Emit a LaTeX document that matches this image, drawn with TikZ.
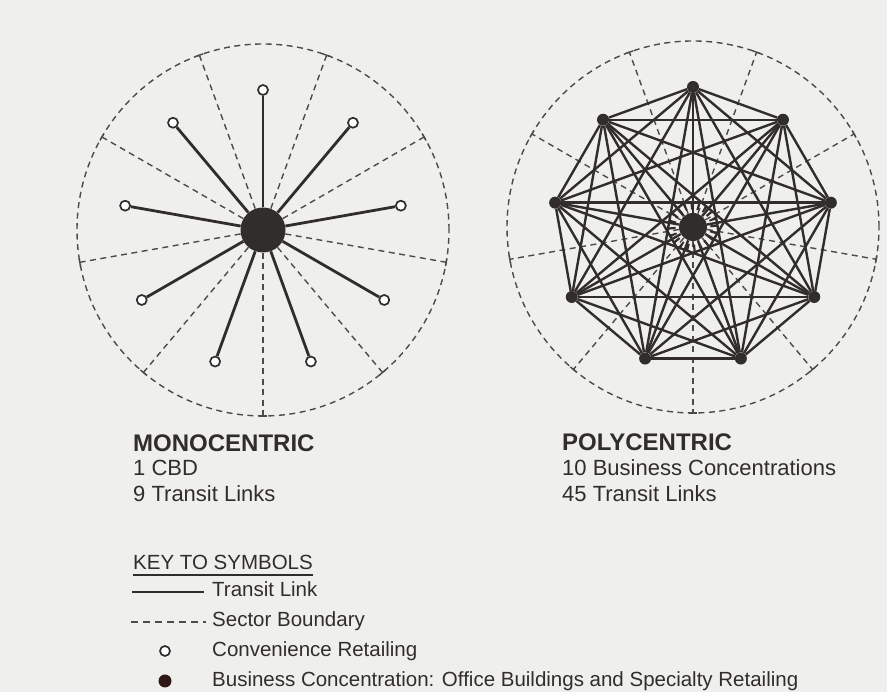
\documentclass[tikz,border=0pt]{standalone}
\usepackage{fontspec}
\setmainfont{Liberation Sans}
\usepackage{xcolor}
\usepackage{tikz}
\usetikzlibrary{positioning}

\definecolor{inkdark}{RGB}{50,45,45}
\definecolor{inkgray}{RGB}{75,75,75}
\definecolor{paper}{RGB}{239,240,237}

\begin{document}
\begin{tikzpicture}[
  x=1pt, y=1pt,
  link/.style={draw=inkdark, line width=2.8pt},
  sector/.style={draw=inkgray, line width=1.4pt, dash pattern=on 6pt off 4.5pt},
  tick/.style={draw=inkgray, line width=1.4pt},
  conv/.style={circle, draw=inkdark, fill=white, line width=1.7pt, inner sep=0pt, minimum size=10pt},
  cbdnode/.style={circle, fill=inkdark, inner sep=0pt, minimum size=45pt},
  bcnode/.style={circle, fill=inkdark, inner sep=0pt, minimum size=12pt},
  title/.style={font=\bfseries\fontsize{24}{28}\selectfont, inner sep=0pt, anchor=base west, text=inkdark},
  info/.style={font=\fontsize{22}{26}\selectfont, inner sep=0pt, anchor=base west, text=inkdark},
  keytext/.style={font=\fontsize{20.5}{24}\selectfont, inner sep=0pt, anchor=base west, text=inkdark},
]
\fill[paper] (0,0) rectangle (887,692);
\useasboundingbox (0,0) rectangle (887,692);

% monocentric city
\coordinate (monoC) at (263,462);
\draw[sector] (monoC) circle (186);
\node[cbdnode] (cbd) at (monoC) {};
\foreach \i in {0,...,8} {
  \coordinate (mEnd\i) at ([shift={(110+40*\i:186)}]monoC);
  \draw[sector] (cbd) -- (mEnd\i);
  \draw[tick] (mEnd\i) ++(200+40*\i:4) -- ++(20+40*\i:8);
  \node[conv] (conv\i) at ([shift={(90+40*\i:140)}]monoC) {};
  \draw[link] (cbd) -- (conv\i);
}

% polycentric city
\coordinate (polyC) at (693,465);
\draw[sector] (polyC) circle (186);
\node[bcnode, minimum size=28pt] (bc0) at (polyC) {};
\foreach \i in {0,...,8} {
  \coordinate (pEnd\i) at ([shift={(110+40*\i:186)}]polyC);
  \draw[sector] (bc0) -- (pEnd\i);
  \draw[tick] (pEnd\i) ++(200+40*\i:4) -- ++(20+40*\i:8);
}
\draw[inkdark, line width=7pt, dash pattern=on 2.2pt off 4.4pt] (polyC) circle (21);
\foreach \i in {1,...,9}
  \node[bcnode] (bc\i) at ([shift={(50+40*\i:140)}]polyC) {};
\foreach \i in {0,...,8} {
  \pgfmathtruncatemacro\nxt{\i+1}
  \foreach \j in {\nxt,...,9}
    \draw[link, line width=2.4pt] (bc\i) -- (bc\j);
}

% labels
\node[title] (mono) at (133,240) {MONOCENTRIC};
\node[info] (monoCbd) at (133,216) {1 CBD};
\node[info] (monoLinks) at (133,190) {9 Transit Links};
\node[title] (poly) at (562,241) {POLYCENTRIC};
\node[info] (polyBc) at (562,216) {10 Business Concentrations};
\node[info] (polyLinks) at (562,190) {45 Transit Links};

% key
\node[keytext] (key) at (133,122) {KEY TO SYMBOLS};
\draw[inkdark, line width=1.8pt] ([yshift=-5pt]key.base west) -- ([yshift=-5pt]key.base east);
\coordinate (kLinkA) at (132,100);
\coordinate (kLinkB) at (204,100);
\draw[link, line width=2.4pt] (kLinkA) -- (kLinkB);
\node[keytext] (kLink) at (212,95) {Transit Link};
\coordinate (kSecA) at (131,70);
\coordinate (kSecB) at (206,70);
\draw[sector, dash pattern=on 7pt off 5pt] (kSecA) -- (kSecB);
\node[keytext] (kSec) at (212,65) {Sector Boundary};
\node[conv] (kConv) at (165,41) {};
\node[keytext] (kConvText) at (212,35) {Convenience Retailing};
\node[bcnode, fill=inkdark!85!red!60!black, minimum size=13pt] (kBc) at (165,11) {};
\node[keytext] (kBcText) at (212,5) {Business Concentration: Office Buildings and Specialty Retailing};
\end{tikzpicture}
\end{document}
